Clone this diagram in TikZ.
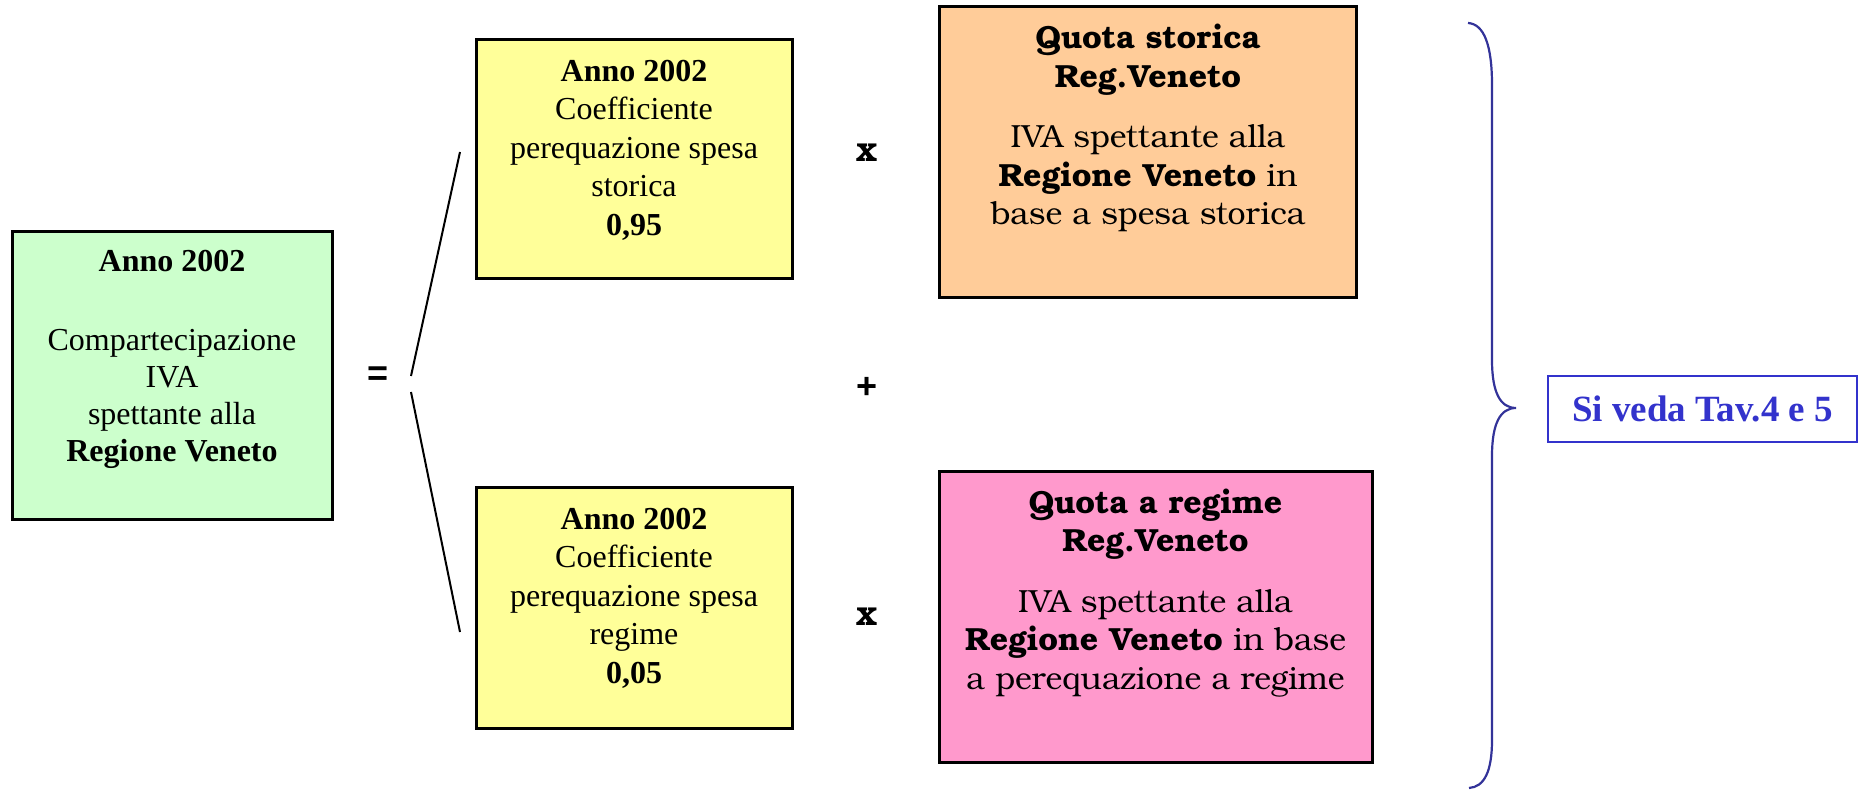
\documentclass[tikz,border=0pt]{standalone}
\usepackage{fontspec}
\setmainfont{Liberation Serif}
\newfontfamily\bkm{texgyrebonum}[Extension=.otf,UprightFont=*-regular,BoldFont=*-bold]
\newfontfamily\sansb{Liberation Sans}
\definecolor{gfill}{HTML}{CCFFCC}
\definecolor{yfill}{HTML}{FFFF99}
\definecolor{ofill}{HTML}{FFCC99}
\definecolor{pfill}{HTML}{FF99CC}
\definecolor{bluetext}{HTML}{3333CC}
\definecolor{bracecol}{HTML}{333399}
\begin{document}
\begin{tikzpicture}[x=0.5pt,y=-0.5pt,
  box/.style={draw=black,line width=1.5pt,inner sep=0pt,outer sep=0pt},
  tnr/.style={align=center,inner sep=0pt,font=\fontsize{16}{19.25}\selectfont},
  bk/.style={align=center,inner sep=0pt,font=\bkm\fontsize{16}{19.3}\selectfont},
  opsans/.style={inner sep=0pt,font=\sansb\bfseries\fontsize{18}{18}\selectfont},
  opx/.style={inner sep=0pt,font=\bkm\bfseries\fontsize{17.5}{17.5}\selectfont},
  thin/.style={draw=black,line width=1pt}]
\useasboundingbox (0,0) rectangle (1858,790);

% boxes
\node[box,fill=gfill,minimum width=160pt,minimum height=144pt] (green) at (172,376) {};
\node[box,fill=yfill,minimum width=158pt,minimum height=119.5pt] (ytop) at (634,159.5) {};
\node[box,fill=yfill,minimum width=158pt,minimum height=120pt] (ybot) at (634,608) {};
\node[box,fill=ofill,minimum width=208.5pt,minimum height=145.5pt] (orange) at (1147.5,152.5) {};
\node[box,fill=pfill,minimum width=216.5pt,minimum height=145pt] (pink) at (1155.5,617) {};

% texts
\node[tnr,font=\fontsize{16}{18.5}\selectfont] (greent) at (172,359) {\textbf{Anno 2002}\\[21pt]Compartecipazione\\IVA\\spettante alla\\\textbf{Regione Veneto}};
\node[tnr] (ytopt) at (634,150) {\textbf{Anno 2002}\\Coefficiente\\perequazione spesa\\storica\\\textbf{0,95}};
\node[tnr] (ybott) at (634,598) {\textbf{Anno 2002}\\Coefficiente\\perequazione spesa\\regime\\\textbf{0,05}};
\node[bk] (oranget) at (1148,128) {\textbf{Quota storica}\\\textbf{Reg.Veneto}\\[11pt]IVA spettante alla\\\textbf{Regione Veneto} in\\base a spesa storica};
\node[bk] (pinkt) at (1155.5,593) {\textbf{Quota a regime}\\\textbf{Reg.Veneto}\\[11pt]IVA spettante alla\\\textbf{Regione Veneto} in base\\a perequazione a regime};

% operators
\node[opsans] (eq) at (378,376) {=};
\node[opsans] (plus) at (867,388) {+};
\node[opx] (xtop) at (867,153) {x};
\node[opx] (xbot) at (867,617) {x};

% bracket lines
\coordinate (la) at (460,152);
\coordinate (lb) at (411,376);
\coordinate (lc) at (411,392);
\coordinate (ld) at (460,632);
\draw[thin] (la) -- (lb);
\draw[thin] (lc) -- (ld);

% brace
\coordinate (bt) at (1468,23);
\coordinate (bm) at (1516,408);
\coordinate (bb) at (1469,788);
\draw[bracecol,line width=1.1pt]
  (bt) .. controls (1484,24) and (1492,45) .. (1492,85)
  -- (1492,360) .. controls (1492,392) and (1500,408) .. (bm)
  .. controls (1500,408) and (1492,424) .. (1492,456)
  -- (1492,740) .. controls (1492,772) and (1484,787) .. (bb);

% reference box
\node[draw=bluetext,line width=1pt,minimum width=154.5pt,minimum height=33pt,inner sep=0pt,
      text=bluetext,font=\bfseries\fontsize{18.5}{18.5}\selectfont] (sv) at (1702.5,409) {Si veda Tav.4 e 5};
\end{tikzpicture}
\end{document}
